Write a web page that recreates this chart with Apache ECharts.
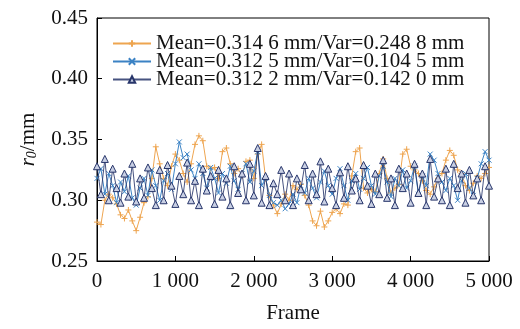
<!DOCTYPE html>
<html><head><meta charset="utf-8">
<script src="https://cdn.jsdelivr.net/npm/echarts@6/dist/echarts.min.js"></script>
<style>html,body{margin:0;padding:0;background:#fff}#c{width:520px;height:329px}</style>
</head><body><div id="c"></div>
<script>
var frameStep = 50;
var seriesNames = ['Mean=0.314 6 mm/Var=0.248 8 mm','Mean=0.312 5 mm/Var=0.104 5 mm','Mean=0.312 2 mm/Var=0.142 0 mm'];
var orangeVals = [0.282,0.280,0.300,0.305,0.302,0.297,0.288,0.285,0.292,0.283,
0.275,0.286,0.298,0.303,0.318,0.344,0.330,0.318,0.312,0.328,
0.338,0.333,0.322,0.315,0.330,0.346,0.353,0.349,0.328,0.326,
0.327,0.318,0.340,0.343,0.330,0.322,0.326,0.320,0.332,0.333,
0.318,0.338,0.346,0.318,0.304,0.296,0.289,0.297,0.305,0.300,
0.312,0.309,0.313,0.304,0.296,0.283,0.279,0.291,0.278,0.283,
0.290,0.293,0.289,0.297,0.296,0.320,0.340,0.343,0.310,0.306,
0.309,0.307,0.322,0.334,0.318,0.306,0.310,0.313,0.338,0.342,
0.328,0.325,0.322,0.316,0.308,0.305,0.311,0.318,0.322,0.333,
0.341,0.337,0.325,0.322,0.312,0.308,0.314,0.320,0.318,0.322,
0.327];
var blueVals = [0.318,0.326,0.305,0.322,0.312,0.298,0.315,0.307,0.320,0.302,
0.296,0.310,0.318,0.304,0.325,0.312,0.300,0.316,0.322,0.309,
0.330,0.348,0.335,0.338,0.325,0.318,0.330,0.322,0.310,0.327,
0.318,0.306,0.322,0.314,0.328,0.316,0.309,0.322,0.330,0.315,
0.324,0.340,0.312,0.318,0.304,0.298,0.296,0.300,0.293,0.297,
0.305,0.298,0.312,0.306,0.318,0.310,0.302,0.315,0.324,0.312,
0.305,0.318,0.326,0.312,0.300,0.316,0.322,0.309,0.318,0.327,
0.312,0.305,0.320,0.328,0.315,0.303,0.318,0.312,0.325,0.310,
0.316,0.328,0.305,0.320,0.312,0.338,0.333,0.322,0.315,0.308,
0.318,0.312,0.300,0.316,0.322,0.310,0.304,0.318,0.330,0.340,
0.333];
var navyVals = [0.328,0.305,0.334,0.300,0.326,0.310,0.298,0.322,0.303,0.330,
0.299,0.318,0.302,0.327,0.310,0.296,0.325,0.300,0.329,0.312,
0.297,0.320,0.305,0.331,0.300,0.316,0.296,0.326,0.308,0.320,
0.297,0.325,0.303,0.318,0.296,0.328,0.306,0.322,0.300,0.330,
0.304,0.343,0.298,0.320,0.296,0.314,0.305,0.325,0.300,0.322,
0.296,0.318,0.309,0.329,0.300,0.322,0.305,0.332,0.299,0.326,
0.310,0.296,0.323,0.302,0.328,0.308,0.318,0.300,0.329,0.312,
0.297,0.322,0.305,0.333,0.302,0.318,0.296,0.326,0.310,0.322,
0.298,0.330,0.306,0.322,0.296,0.334,0.303,0.318,0.300,0.326,
0.296,0.330,0.310,0.322,0.298,0.325,0.304,0.318,0.300,0.328,
0.312];
var xTicks = [0,1000,2000,3000,4000,5000];
var yTicks = [0.25,0.30,0.35,0.40,0.45];

function pairs(vals){ return vals.map(function(v,i){ return [i*frameStep, v]; }); }
var FONT = "'Liberation Serif','Times New Roman',serif";
var colors = ['#eea550','#3b82c4','#27356a'];
var chart = echarts.init(document.getElementById('c'));
chart.setOption({
  animation:false,
  grid:{left:97,right:31,top:18,bottom:62,show:true,borderColor:'#000',borderWidth:1,containLabel:false},
  legend:{orient:'vertical',left:112,top:33,itemWidth:38,itemHeight:8,itemGap:-3,padding:0,
    textStyle:{fontFamily:FONT,fontSize:21,color:'#111',lineHeight:18},
    data:seriesNames},
  xAxis:{type:'value',min:xTicks[0],max:xTicks[xTicks.length-1],interval:1000,
    name:'Frame',nameLocation:'middle',nameGap:42,nameTextStyle:{fontFamily:FONT,fontSize:21,color:'#111'},
    axisLine:{lineStyle:{color:'#000'}},axisTick:{inside:true,length:5,lineStyle:{color:'#000'}},
    splitLine:{show:false},
    axisLabel:{fontFamily:FONT,fontSize:21,color:'#111',margin:10,
      formatter:function(v){return String(v).replace(/\B(?=(\d{3})+(?!\d))/g,' ');}}},
  yAxis:{type:'value',min:yTicks[0],max:yTicks[yTicks.length-1],interval:0.05,
    name:'{i|r}{s|0}{n|/mm}',nameLocation:'middle',nameGap:58,
    nameTextStyle:{rich:{i:{fontFamily:FONT,fontSize:21,fontStyle:'italic',color:'#111'},
      s:{fontFamily:FONT,fontSize:14,fontStyle:'italic',color:'#111',verticalAlign:'bottom',padding:[8,0,0,0]},
      n:{fontFamily:FONT,fontSize:21,color:'#111'}}},
    axisLine:{lineStyle:{color:'#000'}},axisTick:{inside:true,length:5,lineStyle:{color:'#000'}},
    splitLine:{show:false},
    axisLabel:{fontFamily:FONT,fontSize:21,color:'#111',margin:9,formatter:function(v){return v.toFixed(2);}}},
  series:[
    {name:seriesNames[0],type:'line',data:pairs(orangeVals),symbol:'path://M0,-1L0,1M-1,0L1,0',symbolSize:6,
      lineStyle:{color:colors[0],width:1},itemStyle:{color:colors[0],borderColor:colors[0],borderWidth:1},z:2},
    {name:seriesNames[1],type:'line',data:pairs(blueVals),symbol:'path://M-1,-1L1,1M-1,1L1,-1',symbolSize:5,
      lineStyle:{color:colors[1],width:1},itemStyle:{color:colors[1],borderColor:colors[1],borderWidth:1},z:3},
    {name:seriesNames[2],type:'line',data:pairs(navyVals),symbol:'triangle',symbolSize:7,
      lineStyle:{color:colors[2],width:1,opacity:0.85},itemStyle:{color:'#c9d0e4',borderColor:colors[2],borderWidth:1},z:4}
  ]
});
</script></body></html>
